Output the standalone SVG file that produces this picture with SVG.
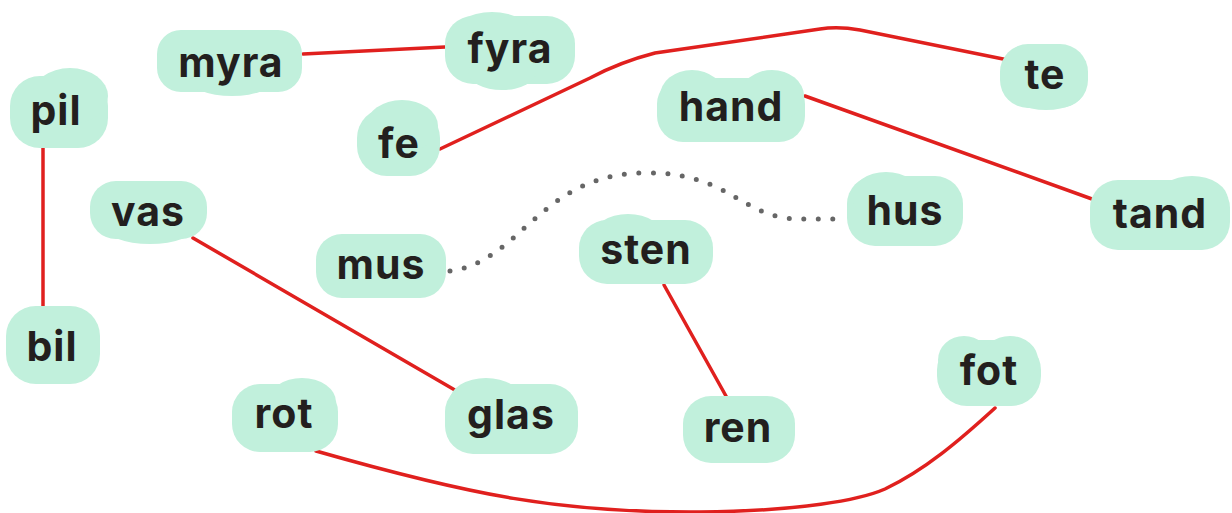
<svg xmlns="http://www.w3.org/2000/svg" width="1232" height="513" viewBox="0 0 1232 513">
<style>
.b{fill:#c1f0dc}
.t{font-family:Inter,"Noto Sans",sans-serif;font-weight:700;font-size:41px;letter-spacing:1px;fill:#231f1e;text-anchor:middle;dominant-baseline:central}
.r{fill:none;stroke:#e0201e;stroke-width:3.5;stroke-linecap:round}
.d{fill:none;stroke:#666;stroke-width:5;stroke-linecap:round;stroke-dasharray:0 14.5}
</style>
<rect width="1232" height="513" fill="#fff"/>
<g id="connectors">
<path class="r" d="M303,54 L445,47"/>
<path class="r" d="M43,148 L43,310"/>
<path class="r" d="M440,149 L590,78 Q620,62 655,53 L820,29 Q838,26 860,30 L1008,60"/>
<path class="r" d="M805,96 L1092,199"/>
<path class="r" d="M193,238 L460,393"/>
<path class="r" d="M664,285 L731,405"/>
<path class="r" d="M316,451 C470,495 560,513 700,512 C800,511 860,500 885,489 C925,470 960,440 995,408"/>
<path class="d" d="M450,271 C520,262 540,176 640,173 C730,170 740,219 800,219 L842,219"/>
</g>
<g id="n-myra"><rect class="b" x="157" y="30" width="145" height="62" rx="24"/><ellipse class="b" cx="232" cy="78" rx="44" ry="18"/><text class="t" x="231" y="62">myra</text></g>
<g id="n-fyra"><rect class="b" x="445" y="16" width="130" height="68" rx="28"/><ellipse class="b" cx="492" cy="38" rx="42" ry="26"/><ellipse class="b" cx="502" cy="72" rx="34" ry="18"/><text class="t" x="510" y="48">fyra</text></g>
<g id="n-pil"><rect class="b" x="10" y="76" width="98" height="72" rx="30"/><ellipse class="b" cx="70" cy="96" rx="38" ry="28"/><text class="t" x="56" y="110">pil</text></g>
<g id="n-fe"><rect class="b" x="357" y="108" width="83" height="68" rx="30"/><ellipse class="b" cx="402" cy="126" rx="36" ry="26"/><text class="t" x="399" y="143">fe</text></g>
<g id="n-hand"><rect class="b" x="657" y="78" width="148" height="64" rx="26"/><ellipse class="b" cx="692" cy="96" rx="32" ry="26"/><ellipse class="b" cx="772" cy="96" rx="32" ry="26"/><text class="t" x="731" y="106">hand</text></g>
<g id="n-te"><rect class="b" x="1000" y="44" width="88" height="64" rx="28"/><ellipse class="b" cx="1046" cy="90" rx="38" ry="20"/><text class="t" x="1045" y="74">te</text></g>
<g id="n-vas"><rect class="b" x="90" y="181" width="117" height="58" rx="26"/><ellipse class="b" cx="150" cy="226" rx="46" ry="18"/><text class="t" x="148" y="211">vas</text></g>
<g id="n-hus"><rect class="b" x="847" y="176" width="116" height="70" rx="28"/><ellipse class="b" cx="886" cy="196" rx="34" ry="24"/><text class="t" x="905" y="210">hus</text></g>
<g id="n-tand"><rect class="b" x="1090" y="180" width="140" height="70" rx="28"/><ellipse class="b" cx="1192" cy="200" rx="36" ry="24"/><text class="t" x="1160" y="213">tand</text></g>
<g id="n-mus"><rect class="b" x="316" y="234" width="130" height="64" rx="26"/><text class="t" x="381" y="264">mus</text></g>
<g id="n-sten"><rect class="b" x="579" y="220" width="134" height="64" rx="28"/><ellipse class="b" cx="628" cy="238" rx="36" ry="24"/><text class="t" x="646" y="249">sten</text></g>
<g id="n-bil"><rect class="b" x="6" y="306" width="94" height="78" rx="30"/><text class="t" x="52" y="346">bil</text></g>
<g id="n-fot"><rect class="b" x="937" y="340" width="104" height="66" rx="30"/><ellipse class="b" cx="964" cy="360" rx="26" ry="24"/><ellipse class="b" cx="1010" cy="360" rx="28" ry="24"/><text class="t" x="989" y="370">fot</text></g>
<g id="n-rot"><rect class="b" x="232" y="384" width="106" height="68" rx="28"/><ellipse class="b" cx="302" cy="402" rx="34" ry="24"/><text class="t" x="284" y="413">rot</text></g>
<g id="n-glas"><rect class="b" x="445" y="384" width="133" height="70" rx="28"/><ellipse class="b" cx="486" cy="400" rx="36" ry="22"/><text class="t" x="511" y="414">glas</text></g>
<g id="n-ren"><rect class="b" x="683" y="396" width="112" height="67" rx="28"/><text class="t" x="738" y="427">ren</text></g>
</svg>
